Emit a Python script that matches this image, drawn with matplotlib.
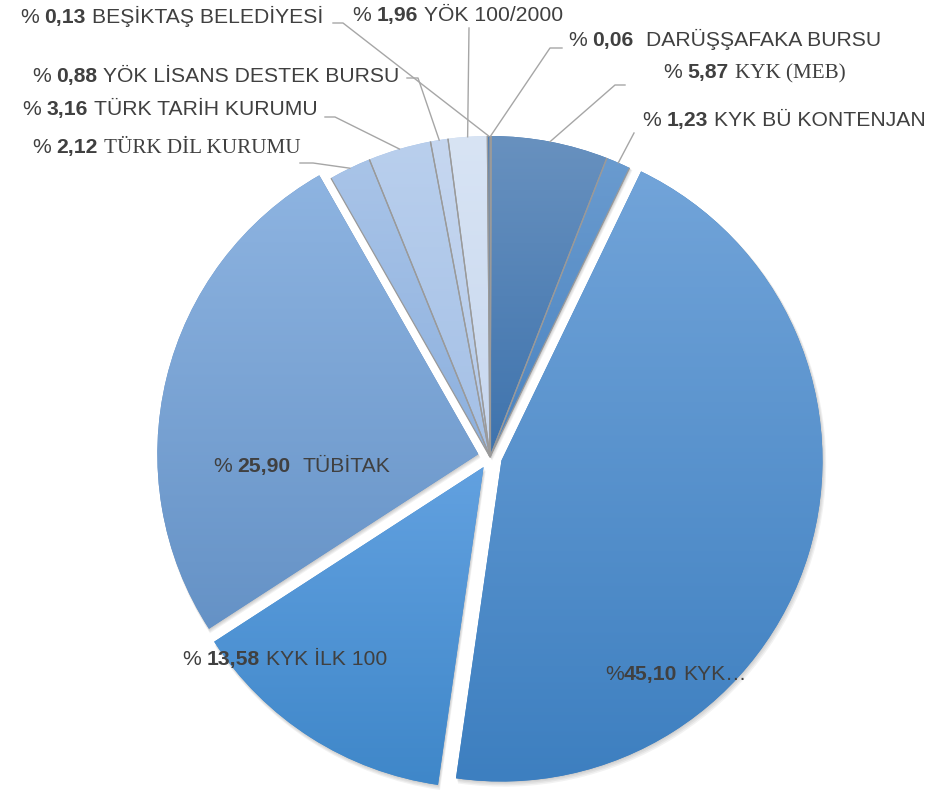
import numpy as np
import matplotlib
matplotlib.use("Agg")
import matplotlib.pyplot as plt
from matplotlib.colors import to_rgb
from matplotlib.patches import Wedge

# ---------------- data ----------------
names = ["DARÜŞŞAFAKA BURSU", "KYK (MEB)", "KYK BÜ KONTENJAN", "KYK…", "KYK İLK 100",
         "TÜBİTAK", "TÜRK DİL KURUMU", "TÜRK TARİH KURUMU", "YÖK LİSANS DESTEK BURSU",
         "YÖK 100/2000", "BEŞİKTAŞ BELEDİYESİ"]
values = [0.06, 5.87, 1.23, 45.10, 13.58, 25.90, 2.12, 3.16, 0.88, 1.96, 0.13]
value_labels = ["0,06", "5,87", "1,23", "45,10", "13,58", "25,90", "2,12", "3,16", "0,88", "1,96", "0,13"]
exploded = [0, 0, 0, 1, 1, 1, 0, 0, 0, 0, 0]

# ---------------- style ----------------
top_colors = ["#5a88b8", "#6891bf", "#6a9bcf", "#72a4d9", "#62a1e0", "#8eb4e1",
              "#a9c4e8", "#b9cfed", "#c6d7f0", "#d8e4f4", "#4f7fb5"]
bottom_colors = ["#3f70a8", "#3e73ad", "#4a83c0", "#3d7fc0", "#3f87c9", "#6592c6",
                 "#8cb0de", "#a4c0e6", "#b3caeb", "#c7d7ef", "#3a6aa0"]
serif_name = [False, True, False, False, False, False, True, False, False, False, False]
space_after_pct = [1, 1, 1, 0, 1, 1, 1, 1, 1, 1, 1]
space_after_num = [2, 1, 1, 1, 1, 2, 1, 1, 1, 1, 1]

W, H = 945, 798
CX, CY_S, R, EXPL = 490, 457, 321, 12
CY = H - CY_S

# label positions (screen px: left x, baseline y)
label_pos = {0: (568, 46), 1: (663, 78), 2: (642, 126), 3: (605, 680), 4: (182, 665),
             5: (213, 472), 6: (32, 153), 7: (22, 115), 8: (32, 82), 9: (352, 21), 10: (20, 23)}
# leader line elbows (screen px), wedge end computed from the wedge
leaders = {10: [(333, 23), (343, 23)], 9: [(469, 28)], 0: [(562, 48), (550, 48)],
           1: [(625, 85), (615, 85)], 2: [(634, 133)], 8: [(407, 78), (418, 78)],
           7: [(325, 117), (335, 117)], 6: [(300, 163), (313, 163)]}

TEXT = "#404040"
LINE = "#a6a6a6"
FS = 15.2

fig = plt.figure(figsize=(W / 100, H / 100), dpi=100)
ax = fig.add_axes([0, 0, 1, 1])

wedges, _ = ax.pie(values, startangle=90, counterclock=False, radius=R, center=(CX, CY),
                   explode=[e * EXPL for e in exploded],
                   wedgeprops=dict(edgecolor="none", linewidth=0))

# shadows
for w in wedges:
    for k in range(4):
        off = 1.0 + k * 0.9
        sh = Wedge((w.center[0] + off * 0.6, w.center[1] - off), w.r + 0.5 * k,
                   w.theta1, w.theta2, facecolor="k", edgecolor="none",
                   alpha=0.05, zorder=0.5)
        ax.add_patch(sh)

# gradient fills
for i, w in enumerate(wedges):
    w.set_zorder(1)
    w.set_facecolor(bottom_colors[i])
    ext = w.get_path().get_extents()
    t = np.linspace(0, 1, 256)[:, None, None]
    c0 = np.array(to_rgb(top_colors[i]))[None, None, :]
    c1 = np.array(to_rgb(bottom_colors[i]))[None, None, :]
    img = c0 * (1 - t) + c1 * t
    im = ax.imshow(img, extent=(ext.x0, ext.x1, ext.y0, ext.y1), origin="upper",
                   aspect="auto", interpolation="bilinear", zorder=1.1)
    im.set_clip_path(w)

# radial edges for non-exploded slices
for i, w in enumerate(wedges):
    if exploded[i]:
        continue
    for th in (w.theta1, w.theta2):
        a = np.deg2rad(th)
        ax.plot([w.center[0], w.center[0] + w.r * np.cos(a)],
                [w.center[1], w.center[1] + w.r * np.sin(a)],
                color="#9a9a9a", lw=0.9, zorder=1.5, solid_capstyle="butt")

ax.set_xlim(0, W)
ax.set_ylim(0, H)
ax.set_aspect("equal")
ax.axis("off")

# leader lines
for i, pts in leaders.items():
    w = wedges[i]
    a = np.deg2rad(0.5 * (w.theta1 + w.theta2))
    end = (w.center[0] + w.r * np.cos(a), w.center[1] + w.r * np.sin(a))
    xs = [p[0] for p in pts] + [end[0]]
    ys = [H - p[1] for p in pts] + [end[1]]
    ax.plot(xs, ys, color=LINE, lw=1.0, zorder=2)

# labels
fig.canvas.draw()
renderer = fig.canvas.get_renderer()
space_px = 0.278 * FS * 100 / 72


def put(x, y, s, **kw):
    t = ax.text(x, y, s, ha="left", va="baseline", fontsize=FS, color=TEXT, zorder=3, **kw)
    bb = t.get_window_extent(renderer)
    return x + bb.width


for i in range(len(values)):
    x, yb = label_pos[i]
    y = H - yb
    x = put(x, y, "%", family="Liberation Sans")
    x += space_px * space_after_pct[i]
    x = put(x, y, value_labels[i], family="Liberation Sans", fontweight="bold")
    x += space_px * space_after_num[i]
    fam = "Liberation Serif" if serif_name[i] else "Liberation Sans"
    put(x, y, names[i], family=fam)

fig.savefig("out.png", dpi=100)
